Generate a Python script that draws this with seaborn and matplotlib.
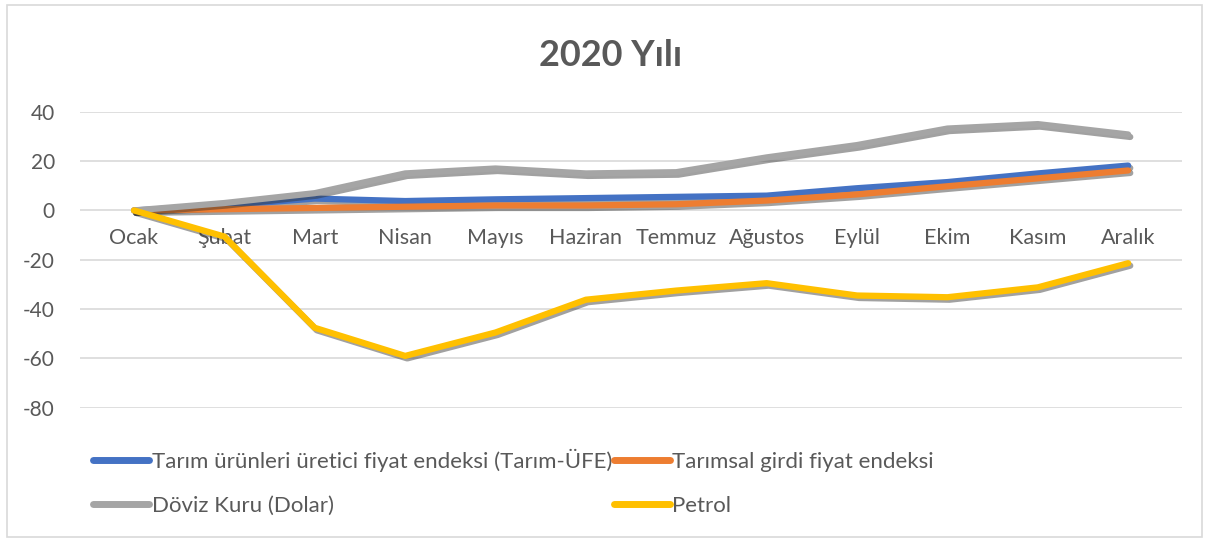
import seaborn as sns
import pandas as pd
import numpy as np
from matplotlib import pyplot as plt
from matplotlib import patheffects as pe
from matplotlib.patches import Rectangle

months = ['Ocak', 'Şubat', 'Mart', 'Nisan', 'Mayıs', 'Haziran',
          'Temmuz', 'Ağustos', 'Eylül', 'Ekim', 'Kasım', 'Aralık']

tarim_ufe = [0, 2, 4.8, 3.8, 4.5, 5, 5.5, 6, 9, 11.5, 15, 18.2]
tarimsal_girdi = [0, 0.5, 1, 1.5, 2, 2, 2.5, 4, 6.5, 9.8, 13, 16.2]
doviz = [0, 3, 7, 15, 17, 15, 15.5, 21.5, 26.5, 33.2, 35, 30.8]
petrol = [0, -10.6, -47.6, -59, -49.5, -36.2, -32.5, -29.5, -34.5, -35.2, -31.2, -21.4]

names = ['Tarım ürünleri üretici fiyat endeksi (Tarım-ÜFE)',
         'Tarımsal girdi fiyat endeksi',
         'Döviz Kuru (Dolar)',
         'Petrol']
colors = ['#4472C4', '#ED7D31', '#A5A5A5', '#FFC000']

df = pd.DataFrame({'ay': np.arange(len(months))})
for n, v in zip(names, [tarim_ufe, tarimsal_girdi, doviz, petrol]):
    df[n] = v
long_df = df.melt(id_vars='ay', var_name='seri', value_name='deger')

sns.set_style('white')
plt.rcParams['font.family'] = ['Lato', 'DejaVu Sans']
plt.rcParams['axes.unicode_minus'] = False
txt = '#595959'

fig = plt.figure(figsize=(12.09, 5.4), dpi=100)
ax = fig.add_axes([0.066, 0.245, 0.912, 0.548])

sns.lineplot(data=long_df, x='ay', y='deger', hue='seri', hue_order=names,
             palette=colors, linewidth=4.5, sort=False, ax=ax, legend=False)
for ln in ax.lines:
    ln.set_solid_capstyle('round')
    ln.set_path_effects([pe.SimpleLineShadow(offset=(1.5, -1.8), alpha=0.45, shadow_color='#303030'),
                         pe.Normal()])

ax.set_xlim(-0.6, 11.6)
ax.set_ylim(-80, 40)
ax.set_yticks(range(-80, 41, 20))
ax.yaxis.grid(True, color='#D9D9D9', linewidth=1.2)
ax.set_axisbelow(True)
for s in ['top', 'right', 'left']:
    ax.spines[s].set_visible(False)
ax.spines['bottom'].set_position(('data', 0))
ax.spines['bottom'].set_visible(False)
ax.set_xticks(range(len(months)))
ax.set_xticklabels(months)
ax.tick_params(axis='x', length=0, pad=13, labelsize=15.5, labelcolor=txt)
ax.tick_params(axis='y', length=0, pad=18, labelsize=15, labelcolor=txt)
ax.set_xlabel('')
ax.set_ylabel('')

fig.text(0.505, 0.898, '2020 Yılı', ha='center', va='center',
         fontsize=26, fontweight='bold', color=txt)

# legend, row-major order
handles = [plt.Line2D([], [], color=c, linewidth=5, solid_capstyle='round') for c in colors]
order = [0, 2, 1, 3]
fig.legend([handles[i] for i in order], [names[i] for i in order], ncol=2,
           loc='upper left', bbox_to_anchor=(0.068, 0.19), frameon=False,
           fontsize=16, labelcolor=txt, handlelength=2.5, handletextpad=0.12,
           columnspacing=0.1, labelspacing=1.1, borderpad=0)

fig.patches.append(Rectangle((0.006, 0.006), 0.988, 0.985, transform=fig.transFigure,
                             fill=False, edgecolor='#D9D9D9', linewidth=1.2))

fig.savefig('out.png', dpi=100)
